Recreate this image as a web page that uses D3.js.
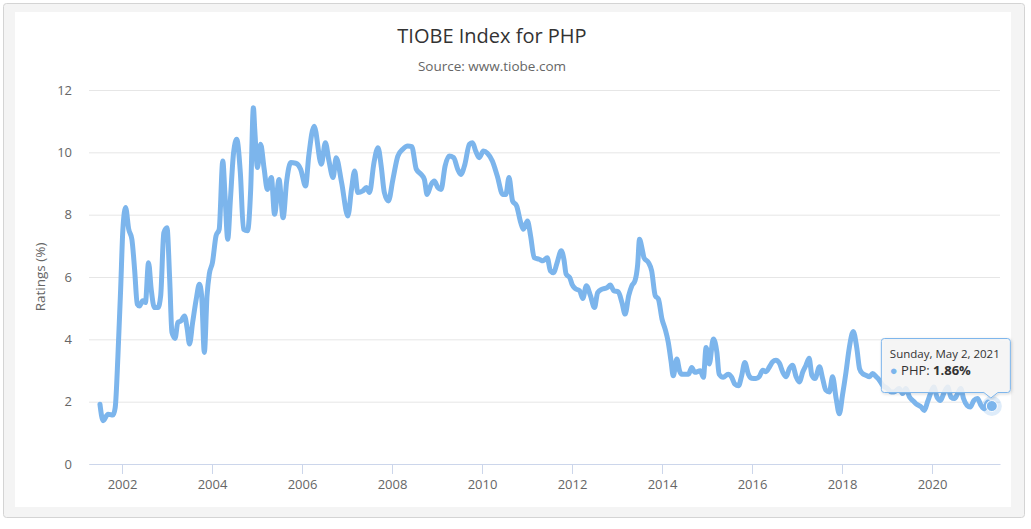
<!DOCTYPE html>
<html>
<head>
<meta charset="utf-8">
<script src="https://cdn.jsdelivr.net/npm/d3@7"></script>
<style>
  body { margin: 0; background: #fff; }
  svg { font-family: "Open Sans", sans-serif; }
</style>
</head>
<body>
<svg id="chart1" width="1031" height="529"></svg>
<script>
// TIOBE ratings for PHP (decimal years / percent)
var years = [
  2001.51,2001.58,2001.69,2001.80,2001.85,2001.91,2001.97,2002.02,2002.08,2002.15,
  2002.22,2002.28,2002.34,2002.39,2002.46,2002.52,2002.59,2002.65,2002.72,2002.80,
  2002.86,2002.93,2003.00,2003.06,2003.11,2003.18,2003.24,2003.31,2003.39,2003.45,
  2003.50,2003.57,2003.65,2003.72,2003.77,2003.83,2003.89,2003.94,2004.01,2004.09,
  2004.16,2004.24,2004.29,2004.35,2004.41,2004.48,2004.55,2004.63,2004.70,2004.79,
  2004.86,2004.92,2004.95,2005.01,2005.08,2005.16,2005.23,2005.32,2005.39,2005.49,
  2005.58,2005.66,2005.75,2005.86,2005.97,2006.08,2006.15,2006.27,2006.43,2006.52,
  2006.60,2006.69,2006.76,2006.88,2007.02,2007.10,2007.17,2007.24,2007.35,2007.43,
  2007.50,2007.60,2007.69,2007.76,2007.83,2007.92,2008.02,2008.13,2008.24,2008.35,
  2008.44,2008.54,2008.65,2008.72,2008.78,2008.87,2008.94,2009.02,2009.09,2009.18,
  2009.27,2009.37,2009.46,2009.53,2009.62,2009.72,2009.79,2009.86,2009.94,2010.03,
  2010.12,2010.23,2010.34,2010.46,2010.53,2010.60,2010.68,2010.77,2010.86,2010.92,
  2011.01,2011.08,2011.16,2011.27,2011.36,2011.45,2011.52,2011.59,2011.67,2011.76,
  2011.82,2011.87,2011.95,2012.00,2012.07,2012.17,2012.24,2012.32,2012.41,2012.50,
  2012.57,2012.67,2012.78,2012.85,2012.93,2013.03,2013.11,2013.18,2013.26,2013.33,
  2013.40,2013.46,2013.50,2013.56,2013.60,2013.70,2013.77,2013.85,2013.92,2014.00,
  2014.07,2014.14,2014.20,2014.25,2014.33,2014.39,2014.44,2014.51,2014.59,2014.66,
  2014.73,2014.85,2014.92,2014.98,2015.05,2015.14,2015.22,2015.27,2015.36,2015.47,
  2015.55,2015.62,2015.70,2015.77,2015.84,2015.92,2015.99,2016.09,2016.16,2016.24,
  2016.31,2016.39,2016.46,2016.53,2016.61,2016.68,2016.76,2016.83,2016.90,2016.98,
  2017.05,2017.13,2017.20,2017.27,2017.33,2017.40,2017.50,2017.57,2017.64,2017.72,
  2017.79,2017.87,2017.94,2018.01,2018.09,2018.16,2018.25,2018.33,2018.39,2018.46,
  2018.53,2018.61,2018.68,2018.76,2018.83,2018.90,2019.01,2019.09,2019.16,2019.27,
  2019.35,2019.42,2019.50,2019.57,2019.64,2019.76,2019.83,2019.90,2019.98,2020.04,
  2020.11,2020.19,2020.26,2020.35,2020.42,2020.50,2020.57,2020.64,2020.70,2020.78,
  2020.85,2020.93,2021.01,2021.09,2021.16,2021.24,2021.33
];
var ratings = [
  1.92,1.39,1.60,1.57,1.82,3.47,5.60,7.53,8.23,7.53,
  7.21,6.25,5.13,5.07,5.24,5.18,6.46,5.60,5.02,5.02,
  5.40,7.42,7.58,5.93,4.22,4.03,4.54,4.59,4.75,4.33,
  3.85,4.54,5.29,5.77,5.40,3.58,5.40,6.09,6.46,7.32,
  7.53,9.72,8.60,7.21,8.50,9.99,10.42,9.35,7.53,7.48,
  8.81,11.43,10.74,9.51,10.26,9.46,8.81,9.19,8.01,9.13,
  7.90,9.08,9.67,9.65,9.46,8.92,9.88,10.84,9.62,10.31,
  9.72,9.19,9.83,9.03,7.96,8.81,9.40,8.71,8.76,8.87,
  8.71,9.67,10.15,9.56,8.71,8.44,9.13,9.88,10.10,10.20,
  10.18,9.46,9.29,9.13,8.65,8.97,9.08,8.87,8.81,9.56,
  9.88,9.83,9.46,9.29,9.62,10.26,10.31,10.04,9.83,10.04,
  9.97,9.72,9.24,8.65,8.65,9.19,8.44,8.28,7.75,7.53,
  7.80,7.32,6.62,6.57,6.52,6.62,6.20,6.14,6.46,6.84,
  6.57,6.09,5.98,5.77,5.63,5.56,5.31,5.72,5.40,5.02,
  5.50,5.61,5.66,5.74,5.56,5.52,5.18,4.81,5.40,5.72,
  5.88,6.41,7.21,6.89,6.62,6.46,6.20,5.40,5.29,4.65,
  4.33,3.90,3.31,2.83,3.37,2.99,2.88,2.88,2.88,3.10,
  2.94,2.99,2.78,3.74,3.21,4.01,3.58,2.88,2.78,2.88,
  2.78,2.56,2.51,2.83,3.26,2.88,2.75,2.74,2.80,3.01,
  2.96,3.12,3.28,3.33,3.23,2.96,2.80,3.06,3.17,2.80,
  2.63,2.96,3.17,3.39,2.85,2.74,3.12,2.74,2.37,2.31,
  2.80,2.10,1.61,2.20,2.96,3.71,4.25,3.71,3.06,2.90,
  2.85,2.80,2.90,2.80,2.69,2.53,2.42,2.31,2.31,2.42,
  2.26,2.42,2.15,2.04,1.94,1.83,1.72,1.99,2.31,2.47,
  2.15,2.04,2.26,2.47,2.15,2.10,2.26,2.42,2.10,1.88,
  1.83,2.04,2.10,1.88,1.77,1.99,1.86
];
var xTicks = [2002, 2004, 2006, 2008, 2010, 2012, 2014, 2016, 2018, 2020];
var yTicks = [0, 2, 4, 6, 8, 10, 12];
var seriesName = "PHP";
var hoverDate = "2021-05-02";   // date of the highlighted (last) point

var color = "#7cb5ec";
var svg = d3.select("svg#chart1");

// panel: grey frame with a white plot card inside
svg.append("rect")
  .attr("x", 3.5).attr("y", 3.5).attr("width", 1021).attr("height", 514)
  .attr("rx", 3).attr("fill", "#f4f4f4").attr("stroke", "#d4d4d4");
svg.append("rect")
  .attr("x", 15).attr("y", 12).attr("width", 996).attr("height", 495)
  .attr("fill", "#fff");

// scales
var x = d3.scaleLinear().domain([2001.267, 2021.511]).range([89, 1000]);
var y = d3.scaleLinear().domain([0, 12]).range([464, 90]);

// title + subtitle
svg.append("text").attr("x", 492).attr("y", 43)
  .attr("text-anchor", "middle").attr("fill", "#333")
  .style("font-size", "20px").text("TIOBE Index for PHP");
svg.append("text").attr("x", 492).attr("y", 71)
  .attr("text-anchor", "middle").attr("fill", "#666")
  .style("font-size", "13.5px").text("Source: www.tiobe.com");

// horizontal grid lines + y labels
var yAxis = d3.axisLeft(y).tickValues(yTicks).tickSize(-(1000 - 89)).tickPadding(17);
var gy = svg.append("g").attr("transform", "translate(89,0)").call(yAxis);
gy.select(".domain").remove();
gy.selectAll(".tick line").attr("stroke", "#e6e6e6");
gy.selectAll(".tick text").attr("fill", "#666")
  .style("font-size", "13px").style("font-family", "Open Sans, sans-serif");

// x axis
var xAxis = d3.axisBottom(x).tickValues(xTicks).tickFormat(d3.format("d"))
  .tickSize(10).tickSizeOuter(0).tickPadding(6);
var gx = svg.append("g").attr("transform", "translate(0,464)").call(xAxis);
gx.select(".domain").attr("stroke", "#ccd6eb");
gx.selectAll(".tick line").attr("stroke", "#ccd6eb");
gx.selectAll(".tick text").attr("fill", "#666")
  .style("font-size", "13px").style("font-family", "Open Sans, sans-serif");

// y axis title
svg.append("text")
  .attr("transform", "translate(40,277) rotate(-90)")
  .attr("text-anchor", "middle").attr("dy", "0.35em")
  .attr("fill", "#666").style("font-size", "13.5px")
  .text("Ratings (%)");

// the series
var data = years.map(function (d, i) { return {x: d, y: ratings[i]}; });
var line = d3.line()
  .x(function (d) { return x(d.x); })
  .y(function (d) { return y(d.y); })
  .curve(d3.curveMonotoneX);

svg.append("path").datum(data)
  .attr("d", line)
  .attr("fill", "none")
  .attr("stroke", color)
  .attr("stroke-width", 5)
  .attr("stroke-linejoin", "round")
  .attr("stroke-linecap", "round");

// hovered point: halo + marker
var last = data[data.length - 1];
var px = x(last.x), py = y(last.y);
svg.append("circle").attr("cx", px).attr("cy", py).attr("r", 10)
  .attr("fill", color).attr("opacity", 0.25);
svg.append("circle").attr("cx", px).attr("cy", py).attr("r", 5.5)
  .attr("fill", color).attr("stroke", "#fff").attr("stroke-width", 1);

// tooltip
var defs = svg.append("defs");
var f = defs.append("filter").attr("id", "shadow")
  .attr("x", "-10%").attr("y", "-10%").attr("width", "130%").attr("height", "140%");
f.append("feDropShadow").attr("dx", 1).attr("dy", 1)
  .attr("stdDeviation", 1.5).attr("flood-color", "#000").attr("flood-opacity", 0.18);

function tooltipPath(x0, y0, w, h, r, tipX, tipY) {
  var x1 = x0 + w, y1 = y0 + h;
  return "M" + (x0 + r) + "," + y0 +
    "L" + (x1 - r) + "," + y0 + "Q" + x1 + "," + y0 + " " + x1 + "," + (y0 + r) +
    "L" + x1 + "," + (y1 - r) + "Q" + x1 + "," + y1 + " " + (x1 - r) + "," + y1 +
    "L" + (tipX + 7) + "," + y1 + "L" + tipX + "," + tipY + "L" + (tipX - 7) + "," + y1 +
    "L" + (x0 + r) + "," + y1 + "Q" + x0 + "," + y1 + " " + x0 + "," + (y1 - r) +
    "L" + x0 + "," + (y0 + r) + "Q" + x0 + "," + y0 + " " + (x0 + r) + "," + y0 + "Z";
}

var tx = px - 111, ty = py - 68;
var tip = svg.append("g");
tip.append("path")
  .attr("d", tooltipPath(tx + 0.5, ty + 0.5, 129, 54, 3, px - 1, py - 8))
  .attr("fill", "rgba(247,247,247,0.85)")
  .attr("stroke", color).attr("stroke-width", 1)
  .attr("filter", "url(#shadow)");

var fmt = d3.timeFormat("%A, %B %-d, %Y");
tip.append("text").attr("x", tx + 9).attr("y", ty + 20)
  .attr("fill", "#333").style("font-size", "11.5px")
  .text(fmt(d3.timeParse("%Y-%m-%d")(hoverDate)));

var t2 = tip.append("text").attr("x", tx + 9).attr("y", ty + 37)
  .attr("fill", "#333").style("font-size", "13px");
t2.append("tspan").attr("fill", color).style("font-size", "13px").text("\u25CF");
t2.append("tspan").text(" " + seriesName + ": ");
t2.append("tspan").style("font-weight", "bold").text(d3.format(".2f")(last.y) + "%");
</script>
</body>
</html>
